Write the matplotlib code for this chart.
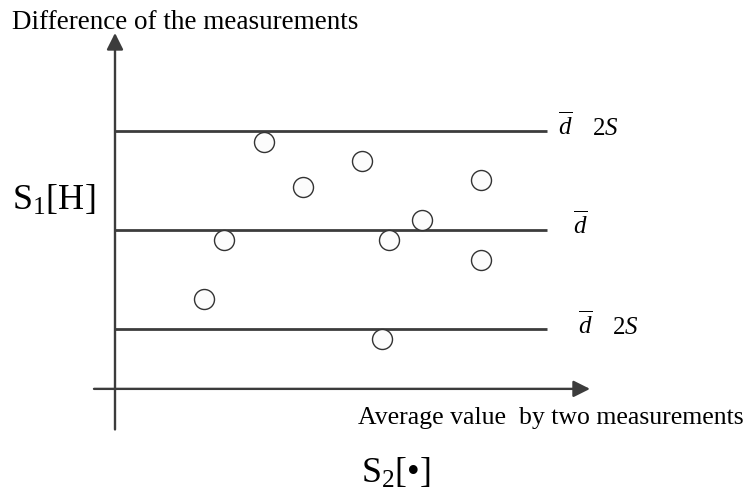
import matplotlib
matplotlib.use('Agg')
import matplotlib.pyplot as plt

matplotlib.rcParams['font.family'] = ['Liberation Serif', 'DejaVu Serif']
matplotlib.rcParams['mathtext.fontset'] = 'custom'
matplotlib.rcParams['mathtext.rm'] = 'Liberation Serif'
matplotlib.rcParams['mathtext.it'] = 'Liberation Serif:italic'

# data: average of the two measurements (x) vs difference (y), in units of S
avg_vals = [2.97, 4.93, 3.76, 7.31, 6.13, 2.17, 5.47, 7.31, 1.77, 5.33]
diff_vals = [1.78, 1.40, 0.86, 1.00, 0.20, -0.20, -0.20, -0.61, -1.40, -2.20]
d_mean = 0.0
s_dev = 1.0
line_end = 8.64

ylabel = 'Difference of the measurements'
xlabel = 'Average value  by two measurements'
side_label = r'S$_\mathregular{1}$[H]'
bottom_label = r'S$_\mathregular{2}$[•]'

dark = '#3c3c3c'

fig = plt.figure(figsize=(7.56, 4.95), dpi=100, facecolor='white')
ax = fig.add_axes([0, 0, 1, 1])
ax.set_xlim(-2.3, 12.82)
ax.set_ylim(-5.354, 4.646)
ax.axis('off')

# mean and limits of agreement
for lev in [d_mean + 2*s_dev, d_mean, d_mean - 2*s_dev]:
    ax.plot([0, line_end], [lev, lev], color=dark, lw=2.0, solid_capstyle='butt', zorder=2)

# axes with arrows
arr = dict(arrowstyle='-|>,head_length=0.5,head_width=0.25', mutation_scale=20,
           lw=1.7, color=dark, shrinkA=0, shrinkB=0)
ax.annotate('', xy=(0, 3.98), xytext=(0, -4.03), arrowprops=arr)
ax.annotate('', xy=(9.5, -3.21), xytext=(-0.42, -3.21), arrowprops=arr)

ax.plot(avg_vals, diff_vals, 'o', ms=14.4, mfc='#fcfcfc', mec='#333333', mew=1.0, zorder=3)

# labels on the right of the lines
ax.text(8.86, 1.92, r'$\overline{d}$', fontsize=18, ha='left', va='baseline')
ax.text(9.54, 1.92, r'$\mathit{2S}$', fontsize=18, ha='left', va='baseline')
ax.text(9.16, -0.08, r'$\overline{d}$', fontsize=18, ha='left', va='baseline')
ax.text(9.26, -2.10, r'$\overline{d}$', fontsize=18, ha='left', va='baseline')
ax.text(9.94, -2.10, r'$\mathit{2S}$', fontsize=18, ha='left', va='baseline')

ax.text(-2.05, 4.055, ylabel, fontsize=19.5, ha='left', va='baseline')
ax.text(-2.05, 0.404, side_label, fontsize=26, ha='left', va='baseline')
ax.text(8.72, -3.92, xlabel, fontsize=18.5, ha='center', va='baseline')
ax.text(5.62, -5.1, bottom_label, fontsize=26, ha='center', va='baseline')

plt.savefig('out.png', dpi=100, facecolor='white')
